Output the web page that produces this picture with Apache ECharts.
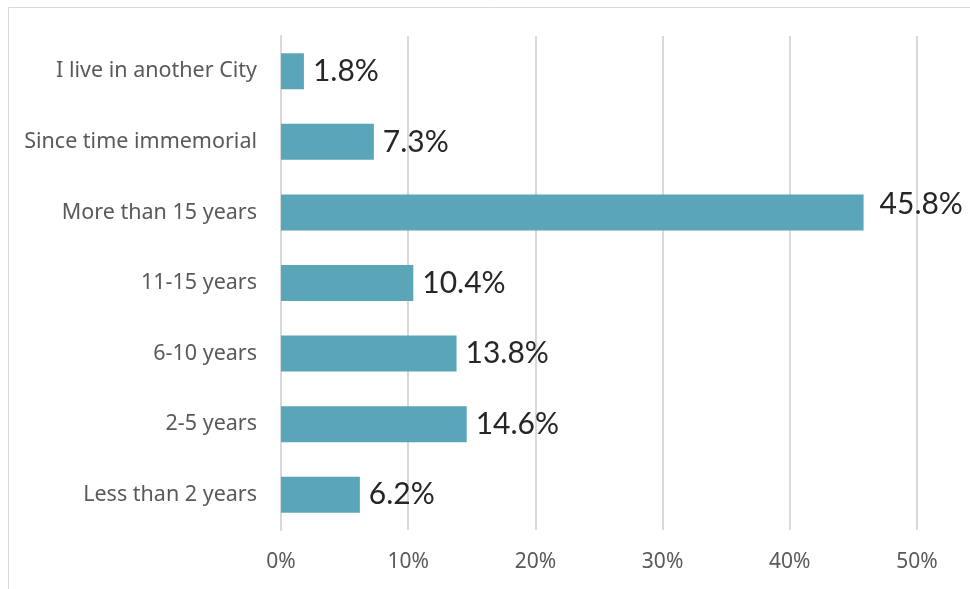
<!DOCTYPE html>
<html><head><meta charset="utf-8">
<script src="https://cdn.jsdelivr.net/npm/echarts@6/dist/echarts.min.js"></script>
<style>html,body{margin:0;padding:0;background:#fff}#c{width:970px;height:589px}</style>
</head><body><div id="c"></div>
<script>
const categories = ["Less than 2 years","2-5 years","6-10 years","11-15 years","More than 15 years","Since time immemorial","I live in another City"];
const values = [6.2, 14.6, 13.8, 10.4, 45.8, 7.3, 1.8];
const xTicks = [0, 10, 20, 30, 40, 50];

const chart = echarts.init(document.getElementById('c'), null, {renderer:'canvas'});
const maxV = Math.max(...values);
chart.setOption({
  animation:false,
  graphic:[{type:'rect', shape:{x:8.5,y:7.5,width:1000,height:1000}, style:{fill:'none', stroke:'#d9d9d9', lineWidth:1}}],
  grid:{left:281, right:53, top:36, bottom:59},
  xAxis:{type:'value', min:xTicks[0], max:xTicks[xTicks.length-1], interval:10,
    axisLine:{show:false}, axisTick:{show:false},
    splitLine:{lineStyle:{color:'#d9d9d9', width:2}},
    axisLabel:{formatter:v=>v+'%', color:'#595959', fontSize:21, fontFamily:'Noto Sans', margin:22}},
  yAxis:{type:'category', data:categories,
    axisLine:{show:true, lineStyle:{color:'#d9d9d9', width:2}}, axisTick:{show:false},
    axisLabel:{color:'#595959', fontSize:21.5, fontFamily:'Noto Sans', margin:24}},
  series:[{type:'bar', barWidth:36,
    itemStyle:{color:'#5ba5b9'},
    label:{show:true, position:'right', distance:9, formatter:p=>p.value.toFixed(1)+'%', color:'#262626', fontSize:30, fontFamily:'Lato'},
    data: values.map(v => v===maxV ? {value:v, label:{distance:16, offset:[0,-8]}} : v)
  }]
});
</script></body></html>
